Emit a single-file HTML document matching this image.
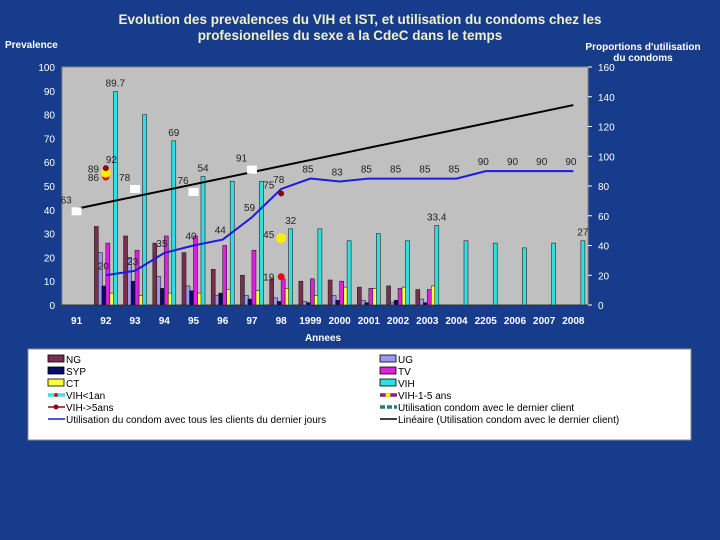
<!DOCTYPE html>
<html><head><meta charset="utf-8"><style>
body{margin:0;width:720px;height:540px;background:#173c8c;overflow:hidden;font-family:"Liberation Sans",sans-serif}
svg{position:absolute;left:0;top:0}
</style></head><body>
<svg width="720" height="540" id="c" xmlns="http://www.w3.org/2000/svg">
<text x="360" y="24" text-anchor="middle" fill="#f2f2c8" font-size="13.5" font-weight="bold">Evolution des prevalences du VIH et IST, et utilisation du condoms chez les</text>
<text x="350" y="40" text-anchor="middle" fill="#f2f2c8" font-size="13.5" font-weight="bold">profesionelles du sexe a la CdeC dans le temps</text>
<text x="5" y="48" fill="#fff" font-size="10" font-weight="bold">Prevalence</text>
<text x="643" y="50" text-anchor="middle" fill="#fff" font-size="10" font-weight="bold">Proportions d'utilisation</text>
<text x="643" y="61" text-anchor="middle" fill="#fff" font-size="10" font-weight="bold">du condoms</text>
<text x="323" y="341" text-anchor="middle" fill="#fff" font-size="10" font-weight="bold">Annees</text>
<rect x="62" y="67" width="526" height="238" fill="#c0c0c0" stroke="#888"/>
<g id="g"></g>
<rect x="28" y="349" width="663" height="91" fill="#fff" stroke="#888"/>
<g id="lg" font-size="10" fill="#000"></g>
</svg>
<script>
const years=["91","92","93","94","95","96","97","98","1999","2000","2001","2002","2003","2004","2205","2006","2007","2008"];
const NG=[null,33,29,26,22,15,12.5,11,10,10.5,7.5,8,6.5,null,null,null,null,null];
const UG=[null,22,20,12,8,4,4,3,1.5,4,2,1,2.5,null,null,null,null,null];
const SYP=[null,8,10,7,6,5,2.5,1.5,1,2,1,2,1,null,null,null,null,null];
const TV=[null,26,23,29,29,25,23,11,11,10,7,7,6.5,null,null,null,null,null];
const CT=[null,5,4,5,5,6.5,6,7,4,7.5,7,7.5,8,null,null,null,null,null];
const VIH=[null,89.7,80,69,54,52,52,32,32,27,30,27,33.4,27,26,24,26,27];
const vihLabels=[null,"89.7",null,"69","54",null,null,"32",null,null,null,null,"33.4",null,null,null,null,"27"];
const condomAll=[null,20,23,35,40,44,59,78,85,83,85,85,85,85,90,90,90,90];
const condomLast=[63,null,78,null,76,null,91,null,null,null,null,null,null,null,null,null,null,null];
const vihLt1=[null,86,null,null,null,null,null,19,null,null,null,null,null,null,null,null,null,null];
const vih15=[null,89,null,null,null,null,null,45,null,null,null,null,null,null,null,null,null,null];
const vihGt5=[null,92,null,null,null,null,null,75,null,null,null,null,null,null,null,null,null,null];
const leftTicks=[0,10,20,30,40,50,60,70,80,90,100];
const rightTicks=[0,20,40,60,80,100,120,140,160];

const X0=62,W=526,YT=67,YB=305,slot=W/years.length;
const xc=i=>X0+slot*(i+0.5);
const yl=v=>YB-v/100*(YB-YT);
const yr=v=>YB-v/160*(YB-YT);
const g=document.getElementById('g');
const NS="http://www.w3.org/2000/svg";
function mk(t,a,p){const e=document.createElementNS(NS,t);for(const k in a)e.setAttribute(k,a[k]);(p||g).appendChild(e);return e;}

leftTicks.forEach(v=>{const t=mk('text',{x:55,y:yl(v)+4,'text-anchor':'end',fill:'#fff','font-size':10});t.textContent=v;

});
rightTicks.forEach(v=>{const t=mk('text',{x:598,y:yr(v)+4,fill:'#fff','font-size':10});t.textContent=v;


mk('line',{x1:588,x2:592,y1:yr(v),y2:yr(v),stroke:'#fff'});});
years.forEach((y,i)=>{const t=mk('text',{x:xc(i),y:324,'text-anchor':'middle',fill:'#fff','font-size':10,'font-weight':'bold'});t.textContent=y;


mk('line',{x1:X0+slot*i,x2:X0+slot*i,y1:YB,y2:YB+4,stroke:'#333'});});
mk('line',{x1:X0,x2:X0+W,y1:YB,y2:YB,stroke:'#333'});

const series=[[NG,'#7a2e4e',-9.5,'bar-ng'],[UG,'#9999ee',-5.5,'bar-ug'],[SYP,'#0a0a6a',-2,'bar-syp'],[TV,'#e020e0',2,'bar-tv'],[CT,'#ffff40',6,'bar-ct'],[VIH,'#30e0e0',9.5,'bar-vih']];
series.forEach(([arr,col,off,name])=>{arr.forEach((v,i)=>{if(v==null)return;
const r=mk('rect',{x:xc(i)+off-2,y:yl(v),width:4,height:YB-yl(v),fill:col,stroke:'#222','stroke-width':0.6});

});});
vihLabels.forEach((l,i)=>{if(!l)return;const t=mk('text',{x:xc(i)+9.5,y:yl(VIH[i])-5,'text-anchor':'middle','font-size':10,fill:'#222'});t.textContent=l;

});

// trend line for condomLast
const pts=condomLast.map((v,i)=>[i,v]).filter(p=>p[1]!=null);
const mx=pts.reduce((s,p)=>s+p[0],0)/pts.length,my=pts.reduce((s,p)=>s+p[1],0)/pts.length;
const sl=pts.reduce((s,p)=>s+(p[0]-mx)*(p[1]-my),0)/pts.reduce((s,p)=>s+(p[0]-mx)**2,0);
const tr=mk('line',{x1:xc(0),y1:yr(my+sl*(0-mx)),x2:xc(17),y2:yr(my+sl*(17-mx)),stroke:'#000','stroke-width':2});



let d='';condomAll.forEach((v,i)=>{if(v==null)return;d+=(d?'L':'M')+xc(i)+','+yr(v);});
const bl=mk('path',{d:d,fill:'none',stroke:'#1a1ae0','stroke-width':2});


condomAll.forEach((v,i)=>{if(v==null)return;const t=mk('text',{x:xc(i)-8,y:yr(v)-6,'font-size':10,fill:'#222'});t.textContent=v;

});

condomLast.forEach((v,i)=>{if(v==null)return;const r=mk('rect',{x:xc(i)-5,y:yr(v)-4,width:10,height:8,fill:'#fff'});


const t=mk('text',{x:xc(i)-16,y:yr(v)-8,'font-size':10,fill:'#222'});t.textContent=v;

});

[[vihLt1,'#e01010',3.5,'vih-lt1-marker'],[vih15,'#ffee00',5,'vih-1-5-marker'],[vihGt5,'#8a0a0a',3,'vih-gt5-marker']].forEach(([arr,col,r,name],k)=>{arr.forEach((v,i)=>{if(v==null)return;
const c=mk('circle',{cx:xc(i),cy:yr(v),r:r,fill:col});


const t=mk('text',{x:xc(i)-(k==2&&i==1?0:18),y:yr(v)+(k==0?4:k==2?-5:0),'font-size':10,fill:'#222'});t.textContent=v;

});});

const lg=document.getElementById('lg');
const items=[['NG','#7a2e4e','box'],['UG','#9999ee','box'],['SYP','#0a0a6a','box'],['TV','#e020e0','box'],['CT','#ffff40','box'],['VIH','#30e0e0','box'],
['VIH<1an','#40e0e0','dotline'],['VIH-1-5 ans','#8a2090','yline'],['VIH->5ans','#8a0a0a','redline'],['Utilisation condom avec le dernier client','#208080','dash'],
['Utilisation du condom avec tous les clients du dernier jours','#1a1ae0','line'],['Linéaire (Utilisation condom avec le dernier client)','#000','line']];
items.forEach((it,k)=>{const col=k%2,row=Math.floor(k/2);const x=col?380:48,y=359+row*12;
const gg=mk('g',{},lg);


if(it[2]=='box')mk('rect',{x:x,y:y-4,width:16,height:7,fill:it[1],stroke:'#000','stroke-width':0.8},gg);
else{mk('line',{x1:x,x2:x+17,y1:y,y2:y,stroke:it[1],'stroke-width':it[2]=='line'||it[2]=='redline'?1.5:3.5,'stroke-dasharray':it[2]=='dash'?'5,2':'none'},gg);
if(it[2]=='dotline')mk('circle',{cx:x+8,cy:y,r:2,fill:'#c02020'},gg);
if(it[2]=='yline')mk('circle',{cx:x+8,cy:y,r:2.5,fill:'#ffee00'},gg);
if(it[2]=='redline')mk('circle',{cx:x+8,cy:y,r:2.5,fill:'#8a0a0a'},gg);}
const t=mk('text',{x:x+18,y:y+4,'font-size':10},gg);t.textContent=it[0];});
</script>
</body></html>
